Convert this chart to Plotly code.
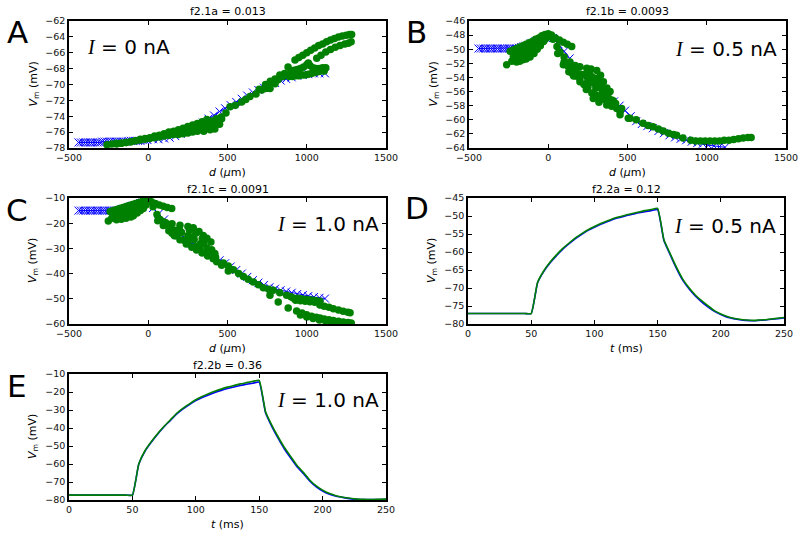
import plotly.graph_objects as go

# ---------------- data ----------------
# Panel A (I = 0 nA): model (blue crosses) and measured (green dots)
a_model_d = [-440,-425,-410,-395,-380,-365,-350,-335,-320,-305,-290,-275,-260,-245,-230,-215,-200,-185,-170,-155,
             -140,-125,-110,-95,-80,-65,-50,-35,-20,-5,30,65,100,135,170,205,240,275,310,345,380,415,450,485,520,
             555,590,625,660,695,730,765,800,835,870,905,940,975,1010,1045,1080,1115]
a_model_v = [-77.3,-77.3,-77.3,-77.3,-77.3,-77.3,-77.3,-77.3,-77.3,-77.3,-77.2,-77.2,-77.2,-77.2,-77.2,-77.2,-77.2,
             -77.2,-77.2,-77.2,-77.2,-77.1,-77.1,-77.1,-77.1,-77.1,-77.1,-77.0,-77.0,-77.0,-76.9,-76.9,-76.8,-76.7,
             -76.5,-76.2,-75.9,-75.6,-75.2,-74.8,-74.3,-73.9,-73.4,-73.0,-72.6,-72.2,-71.8,-71.4,-71.0,-70.7,-70.4,
             -70.1,-69.8,-69.5,-69.3,-69.1,-68.9,-68.8,-68.7,-68.6,-68.6,-68.6]
a_data_d = [-260,-230,-200,-170,-140,-110,-80,-50,-20,10,40,70,100,130,160,190,220,250,280,310,340,370,400,430,
            -200,-170,-140,-110,-80,-50,-20,10,40,70,100,130,160,190,220,250,280,310,340,370,400,430,460,
            200,230,260,290,320,350,380,410,440,
            350,390,420,450,
            463,490,516,550,589,615,642,680,716,740,768,800,819,850,882,
            700,740,770,800,830,860,
            890,910,930,950,970,990,1010,1030,1050,1070,1090,1110,
            900,920,940,960,980,1000,1010,1020,1040,1060,1080,1100,1120,
            926,950,975,1000,1025,1050,1075,1100,1125,1150,1175,1200,1225,1250,1270,1283,
            1063,1090,1120,1150,1180,1210,1240,1262,1280]
a_data_v = [-77.6,-77.5,-77.4,-77.4,-77.3,-77.2,-77.1,-77.0,-76.9,-76.8,-76.7,-76.6,-76.5,-76.4,-76.3,-76.3,-76.2,
            -76.1,-76.0,-75.9,-75.7,-75.5,-75.3,-75.0,
            -77.5,-77.4,-77.3,-77.2,-77.1,-76.9,-76.8,-76.7,-76.5,-76.4,-76.2,-76.0,-75.9,-75.7,-75.5,-75.3,-75.1,
            -74.9,-74.7,-74.4,-74.6,-74.3,-74.1,
            -75.9,-75.7,-75.5,-75.4,-75.2,-75.0,-74.8,-74.7,-74.5,
            -75.9,-75.7,-75.6,-75.0,
            -74.3,-73.6,-72.8,-72.6,-72.2,-71.9,-71.5,-71.2,-70.7,-70.5,-70.5,-69.9,-69.4,-69.0,-67.8,
            -70.6,-70.0,-69.6,-69.3,-68.8,-68.6,
            -69.0,-69.0,-68.9,-68.9,-68.8,-68.8,-68.7,-68.6,-68.5,-68.4,-68.3,-68.3,
            -68.3,-68.2,-68.1,-68.0,-67.8,-67.5,-67.3,-67.6,-67.9,-68.0,-68.0,-67.9,-67.9,
            -66.9,-66.6,-66.3,-66.0,-65.7,-65.4,-65.1,-64.9,-64.6,-64.4,-64.2,-64.0,-63.9,-63.8,-63.7,-63.7,
            -66.7,-66.3,-65.9,-65.6,-65.3,-65.1,-64.9,-64.8,-64.6]

# Panel B (I = 0.5 nA)
b_model_d = a_model_d
b_model_v = [-49.9,-49.9,-49.9,-49.9,-49.9,-49.9,-49.9,-49.9,-49.9,-49.9,-49.9,-49.9,-49.9,-49.9,-49.9,-49.9,-49.9,
             -49.8,-49.7,-49.6,-49.5,-49.4,-49.2,-49.1,-48.9,-48.8,-48.6,-48.5,-48.3,-48.2,-48.4,-49.3,-50.3,-51.3,
             -52.6,-53.6,-54.4,-55.1,-55.7,-56.2,-56.8,-57.4,-58.0,-58.7,-59.5,-60.2,-60.6,-60.9,-61.2,-61.6,-61.9,
             -62.2,-62.5,-62.7,-62.9,-63.1,-63.3,-63.4,-63.6,-63.7,-63.8,-63.9]
b_data_d = [-262,
            -240,-220,-200,-180,-160,-140,-120,-100,-80,-60,-40,-20,0,
            -230,-200,-180,-160,-140,-115,-90,-70,-50,-30,-10,
            -220,-190,-160,-130,-100,-70,-40,
            -220,-190,-190,-160,-130,-130,-100,-100,-70,-40,-20,
            20,45,70,95,120,148,
            30,55,74,100,137,170,200,243,270,306,330,348,370,390,
            60,95,130,160,200,240,284,320,369,400,432,
            150,200,250,300,340,380,410,260,300,
            100,125,150,175,175,200,225,225,250,250,275,275,275,300,300,300,325,325,325,350,350,375,400,425,
            453,505,453,
            463,516,555,598,630,661,695,726,760,790,810,850,
            900,930,960,990,1020,1050,1080,1110,1140,1170,1200,1230,1260,1280]
b_data_v = [-52.2,
            -50.3,-50.1,-49.9,-49.7,-49.5,-49.3,-49.1,-48.9,-48.6,-48.4,-48.1,-47.9,-47.8,
            -51.7,-51.8,-51.7,-51.5,-51.4,-51.1,-50.6,-50.0,-49.5,-48.9,-48.3,
            -51.0,-50.9,-50.6,-50.3,-50.0,-49.5,-48.9,
            -50.6,-50.3,-51.6,-50.0,-49.6,-51.0,-49.2,-50.5,-48.8,-48.4,-48.6,
            -48.0,-48.4,-48.7,-49.0,-49.3,-49.6,
            -48.6,-49.6,-50.4,-51.1,-51.8,-52.3,-52.5,-52.7,-52.8,-53.0,-53.7,-54.6,-55.5,-56.0,
            -50.6,-52.2,-53.2,-53.8,-54.6,-55.7,-57.0,-57.5,-57.9,-58.1,-58.4,
            -52.7,-53.5,-54.2,-55.5,-56.2,-57.0,-57.3,-53.5,-54.5,
            -51.8,-52.4,-53.4,-53.2,-53.8,-54.2,-53.6,-55.0,-54.6,-55.4,-53.9,-54.7,-56.2,-54.1,-54.9,-56.5,
            -54.6,-55.4,-56.9,-55.6,-57.1,-56.5,-57.2,-57.7,
            -58.8,-59.8,-59.3,
            -58.4,-59.8,-60.0,-60.5,-60.8,-61.0,-61.3,-61.6,-61.9,-62.1,-62.2,-62.6,
            -62.9,-63.0,-63.0,-63.0,-63.0,-63.0,-63.0,-62.9,-62.9,-62.8,-62.7,-62.6,-62.5,-62.5]

# Panel C (I = 1.0 nA)
c_model_d = a_model_d
c_model_v = [-15.0,-15.0,-15.0,-15.0,-15.0,-15.0,-15.0,-15.0,-15.0,-15.0,-15.0,-15.0,-15.0,-15.0,-15.0,-15.0,-15.0,
             -14.8,-14.6,-14.3,-14.0,-13.7,-13.4,-13.1,-12.8,-12.4,-12.1,-11.8,-11.4,-11.1,-14.0,-16.3,-18.5,-20.7,
             -22.6,-24.5,-26.3,-28.0,-29.5,-30.9,-32.2,-33.5,-34.7,-35.9,-37.2,-38.6,-40.0,-41.3,-42.6,-43.6,-44.5,
             -45.4,-46.0,-46.6,-47.1,-47.6,-48.1,-48.5,-48.9,-49.3,-49.6,-49.9]
c_data_d = [-252,
            -240,-220,-200,-180,-160,-140,-120,-100,-80,-60,-40,-20,0,
            -230,-200,-170,-140,-110,-94,-70,-50,-31,-15,
            -220,-190,-160,-130,-100,-70,-40,
            -220,-190,-160,-130,-100,-70,-40,-20,
            20,45,70,95,120,148,
            30,55,74,110,150,200,250,284,320,347,370,395,
            60,95,130,165,200,240,275,305,340,375,410,432,
            130,170,210,250,290,330,370,400,300,260,340,420,
            100,125,150,175,200,225,250,275,300,325,350,375,400,425,
            463,505,
            474,505,537,570,600,630,663,695,726,760,789,830,873,900,915,940,960,980,1000,1020,1041,1060,1083,
            930,960,990,1020,1050,
            1083,1110,1140,1168,1200,1230,1260,1273,
            768,820,883,936,970,999,1030,1060,1083,1110,1140,1168,1200,1230,1260,1280,
            960,1000,1040,1080,1120,1160,1200,1240,1280]
c_data_v = [-19.1,
            -15.4,-15.0,-14.6,-14.2,-13.8,-13.4,-13.0,-12.6,-12.2,-11.8,-11.4,-11.0,-10.7,
            -18.0,-18.6,-18.4,-18.0,-17.5,-17.0,-16.0,-15.0,-14.2,-12.8,
            -16.8,-16.5,-16.0,-15.5,-15.0,-14.2,-13.0,
            -17.5,-17.3,-16.8,-16.3,-15.8,-14.8,-13.6,-11.6,
            -11.5,-12.2,-12.8,-13.3,-13.8,-14.2,
            -13.5,-16.5,-18.5,-19.8,-20.2,-20.8,-21.3,-21.8,-23.3,-24.9,-26.0,-27.5,
            -19.0,-20.9,-23.0,-25.0,-26.6,-28.3,-29.5,-30.6,-31.8,-33.0,-34.1,-35.3,
            -21.2,-22.8,-23.7,-25.0,-26.5,-28.2,-29.8,-31.2,-24.0,-22.7,-26.2,-32.0,
            -19.5,-20.5,-24.0,-25.0,-23.0,-26.8,-27.6,-25.5,-29.2,-30.0,-28.0,-31.8,-30.5,-33.5,
            -36.7,-39.0,
            -35.8,-37.0,-38.5,-40.0,-41.2,-42.2,-43.3,-44.4,-45.6,-46.2,-46.6,-47.6,-48.6,-49.2,-49.7,-49.8,-50.0,
            -50.2,-50.3,-50.5,-50.6,-50.8,-51.0,
            -50.6,-50.8,-51.0,-51.2,-51.4,
            -52.5,-53.0,-53.4,-53.9,-54.4,-54.9,-55.3,-55.5,
            -48.6,-51.3,-53.7,-54.8,-55.6,-56.3,-56.9,-57.3,-57.6,-58.0,-58.3,-58.6,-58.9,-59.2,-59.4,-59.6,
            -56.4,-57.2,-57.8,-58.4,-58.9,-59.3,-59.6,-59.8,-59.9]

# Panels D and E: time courses
t_ms = [0,5,10,15,20,25,30,35,40,45,50,55,60,65,70,75,80,85,90,95,100,105,110,115,120,125,130,135,140,145,150,
        155,160,165,170,175,180,185,190,195,200,205,210,215,220,225,230,235,240,245,250]
d_model = [-77.1,-77.1,-77.1,-77.1,-77.1,-77.1,-77.1,-77.1,-77.1,-77.1,-77.1,-68.6,-65.4,-63.0,-61.0,-59.2,-57.7,
           -56.3,-55.1,-54.0,-53.1,-52.3,-51.6,-50.9,-50.4,-49.9,-49.5,-49.1,-48.8,-48.5,-48.2,-56.8,-60.8,-64.6,
           -67.9,-70.3,-72.3,-73.9,-75.3,-76.5,-77.4,-78.1,-78.5,-78.8,-79.0,-79.1,-79.0,-78.9,-78.7,-78.5,-78.3]
d_data = [-77.1,-77.1,-77.1,-77.1,-77.1,-77.1,-77.1,-77.1,-77.1,-77.1,-77.1,-68.5,-65.2,-62.8,-60.8,-59.0,-57.5,
          -56.1,-54.9,-53.8,-52.9,-52.1,-51.4,-50.7,-50.2,-49.7,-49.3,-48.9,-48.5,-48.2,-47.9,-56.6,-60.5,-64.3,
          -67.6,-70.0,-72.0,-73.6,-75.0,-76.3,-77.2,-77.9,-78.4,-78.7,-78.9,-79.0,-78.9,-78.8,-78.6,-78.4,-78.2]
e_model = [-77.3,-77.3,-77.3,-77.3,-77.3,-77.3,-77.3,-77.3,-77.3,-77.3,-77.3,-60.2,-52.8,-47.8,-43.3,-39.3,-35.8,
           -32.2,-29.4,-27.0,-24.8,-23.0,-21.6,-20.3,-19.1,-18.1,-17.2,-16.4,-15.7,-15.1,-14.5,-31.5,-39.2,-45.8,
           -51.8,-56.8,-61.6,-65.4,-69.6,-72.7,-75.0,-76.7,-77.8,-78.5,-79.1,-79.5,-79.7,-79.8,-79.8,-79.7,-79.6]
e_data = [-77.3,-77.3,-77.3,-77.3,-77.3,-77.3,-77.3,-77.3,-77.3,-77.3,-77.3,-60.0,-52.5,-47.5,-43.0,-39.0,-35.4,
          -31.8,-29.0,-26.6,-24.3,-22.5,-21.0,-19.6,-18.4,-17.3,-16.4,-15.5,-14.8,-14.1,-13.5,-31.0,-38.5,-45.0,
          -51.0,-56.0,-61.0,-64.8,-69.0,-72.2,-74.5,-76.3,-77.5,-78.3,-78.9,-79.4,-79.6,-79.7,-79.7,-79.6,-79.5]

titles = ["f2.1a = 0.013", "f2.1b = 0.0093", "f2.1c = 0.0091", "f2.2a = 0.12", "f2.2b = 0.36"]
letters = ["A", "B", "C", "D", "E"]
currents = ["0", "0.5", "1.0", "0.5", "1.0"]

# ---------------- layout helpers ----------------
W, H = 800, 537
boxes = {  # pixel boxes: x0, x1, y0(top), y1(bottom)
    "A": (69, 386, 21, 148),
    "B": (469, 786, 21, 148),
    "C": (69, 386, 198, 324),
    "D": (468, 784, 198, 324),
    "E": (69, 386, 374, 500),
}
BLUE = "#0000ff"
GREEN = "#008000"
FONT = "DejaVu Sans"

fig = go.Figure()

def add_axes(i, key, xr, yr, xt, yt):
    x0, x1, y0, y1 = boxes[key]
    n = "" if i == 1 else str(i)
    common = dict(showline=True, linecolor="black", linewidth=1.5, mirror="allticks",
                  ticks="inside", ticklen=4, tickwidth=1, tickcolor="black",
                  showgrid=False, zeroline=False, automargin=False,
                  tickfont=dict(family=FONT, size=9.5, color="#111"))
    fig.layout["xaxis" + n] = dict(domain=[x0 / W, x1 / W], anchor="y" + n, range=xr,
                                   tickvals=xt, **common)
    fig.layout["yaxis" + n] = dict(domain=[1 - y1 / H, 1 - y0 / H], anchor="x" + n, range=yr,
                                   tickvals=yt, **common)
    return "x" + n, "y" + n

def scatter_panel(i, key, md, mv, dd, dv, yr, yt):
    xa, ya = add_axes(i, key, [-500, 1500], yr, [-500, 0, 500, 1000, 1500], yt)
    fig.add_trace(go.Scatter(x=md, y=mv, mode="lines+markers", xaxis=xa, yaxis=ya,
                             line=dict(color=BLUE, width=1),
                             marker=dict(symbol="x-thin", size=8, line=dict(color=BLUE, width=1)),
                             showlegend=False))
    fig.add_trace(go.Scatter(x=dd, y=dv, mode="markers", xaxis=xa, yaxis=ya,
                             marker=dict(symbol="circle", size=7.5, color=GREEN, line=dict(width=0)),
                             showlegend=False))

def line_panel(i, key, m, d, yr, yt):
    xa, ya = add_axes(i, key, [0, 250], yr, [0, 50, 100, 150, 200, 250], yt)
    fig.add_trace(go.Scatter(x=t_ms, y=m, mode="lines", xaxis=xa, yaxis=ya,
                             line=dict(color=BLUE, width=1.6, shape="spline", smoothing=0.4),
                             showlegend=False))
    fig.add_trace(go.Scatter(x=t_ms, y=d, mode="lines", xaxis=xa, yaxis=ya,
                             line=dict(color=GREEN, width=1.6, shape="spline", smoothing=0.4),
                             showlegend=False))

scatter_panel(1, "A", a_model_d, a_model_v, a_data_d, a_data_v, [-78, -62], list(range(-78, -61, 2)))
scatter_panel(2, "B", b_model_d, b_model_v, b_data_d, b_data_v, [-64, -46], list(range(-64, -45, 2)))
scatter_panel(3, "C", c_model_d, c_model_v, c_data_d, c_data_v, [-60, -10], list(range(-60, -9, 10)))
line_panel(4, "D", d_model, d_data, [-80, -45], list(range(-80, -44, 5)))
line_panel(5, "E", e_model, e_data, [-80, -10], list(range(-80, -9, 10)))

ann = []
def A(x, y, text, size, **kw):
    d = dict(x=x / W, y=1 - y / H, xref="paper", yref="paper", text=text, showarrow=False,
             xanchor="center", yanchor="middle",
             font=dict(family=FONT, size=size, color="black"))
    d.update(kw)
    ann.append(d)

letter_pos = {"A": (17, 32), "B": (416, 32), "C": (17, 210), "D": (417, 208), "E": (17, 386)}
for idx, key in enumerate(letters):
    x0, x1, y0, y1 = boxes[key]
    cx = (x0 + x1) / 2
    A(cx, y0 - 9, titles[idx], 11)
    A(*letter_pos[key], key, 31)
    A(x0 - 36, (y0 + y1) / 2, "<i>V</i><sub>m</sub> (mV)", 11, textangle=-90)
    xl = "<i>d</i> (<i>μ</i>m)" if key in "ABC" else "<i>t</i> (ms)"
    A(cx, y1 + 24, xl, 11)

itext = "<i><span style='font-family:Liberation Serif;font-style:italic'>I</span></i> = {} nA"
A(85, 47, itext.format(currents[0]), 20, xanchor="left")
A(779, 49, itext.format(currents[1]), 20, xanchor="right")
A(381, 224, itext.format(currents[2]), 20, xanchor="right")
A(778, 226, itext.format(currents[3]), 20, xanchor="right")
A(381, 400, itext.format(currents[4]), 20, xanchor="right")

fig.update_layout(width=W, height=H, margin=dict(l=0, r=0, t=0, b=0, autoexpand=False),
                  paper_bgcolor="white", plot_bgcolor="white", annotations=ann)
fig.write_html("out.html", config={"displayModeBar": False},
               post_script="document.body.style.margin='0px';")
